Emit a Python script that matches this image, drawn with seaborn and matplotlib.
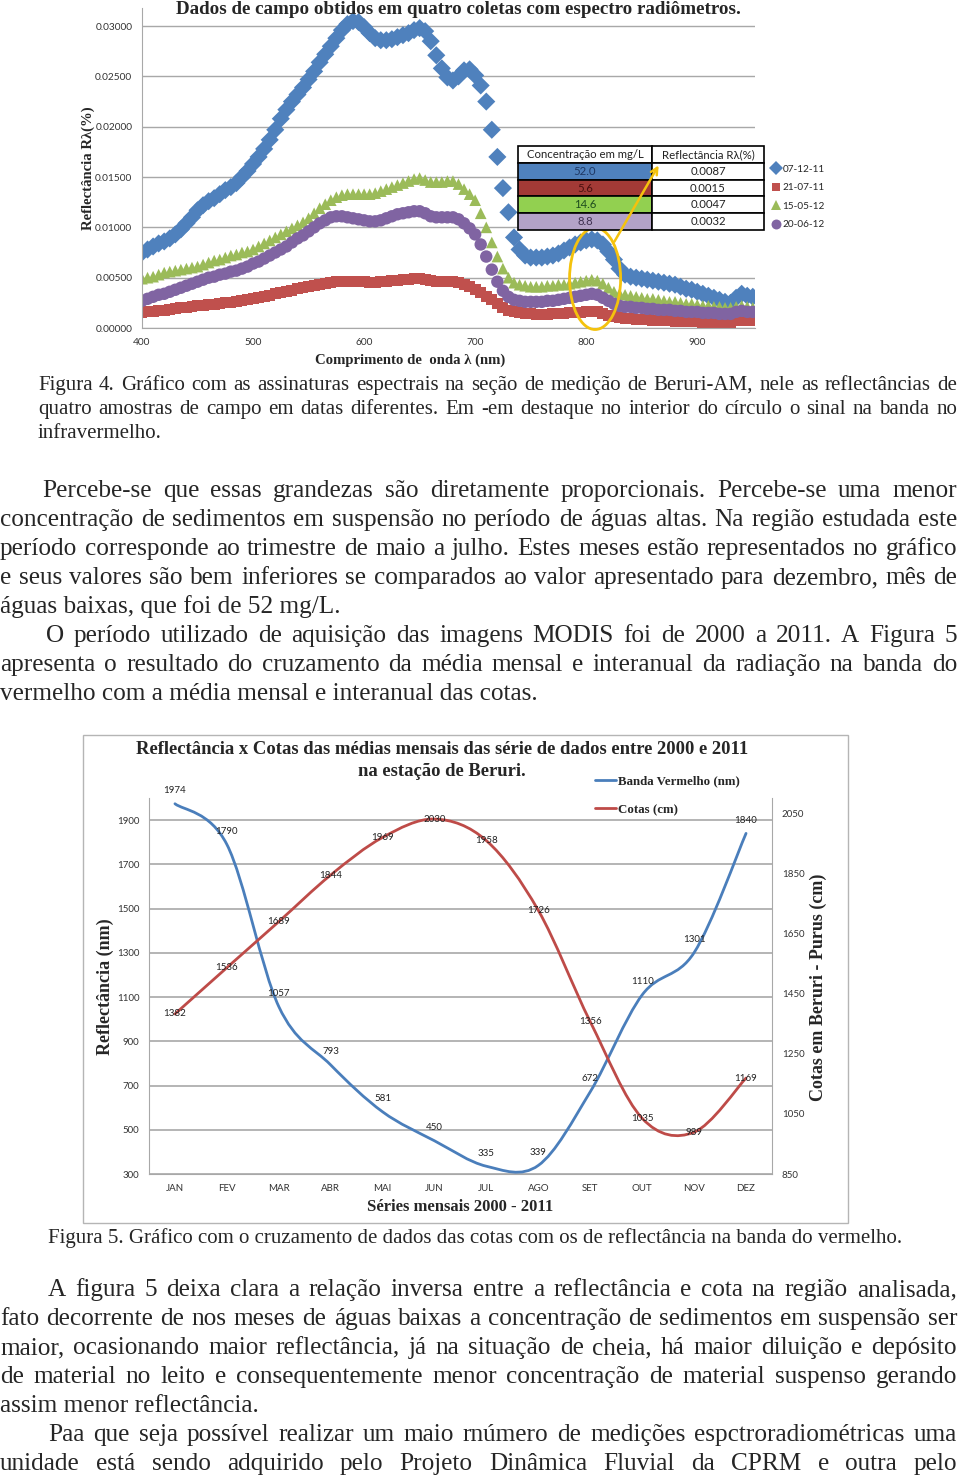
# ==============================
# Página com as Figuras 4 e 5 (espectros de campo e reflectância x cotas)
# ==============================

import numpy as np
import pandas as pd
import matplotlib
matplotlib.use("Agg")
import matplotlib.pyplot as plt
import seaborn as sns
from matplotlib.path import Path
from matplotlib.patches import PathPatch, Ellipse, Rectangle, FancyArrowPatch
from matplotlib.lines import Line2D


# ------------------------------
# Dados - Figura 4 (reflectância por comprimento de onda, passo de 5 nm)
# ------------------------------
comprimento_onda = np.arange(400, 951, 5)

refl_07_12_11 = [
    0.0075, 0.0078, 0.0081, 0.0084, 0.0086, 0.0089, 0.0093, 0.0098, 0.0104, 0.0110,
    0.0117, 0.0122, 0.0126, 0.0129, 0.0133, 0.0137, 0.0140, 0.0144, 0.0150, 0.0156,
    0.0163, 0.0170, 0.0178, 0.0187, 0.0197, 0.0208, 0.0217, 0.0225, 0.0232, 0.0239,
    0.0247, 0.0255, 0.0264, 0.0272, 0.0280, 0.0288, 0.0296, 0.0302, 0.0305, 0.0304,
    0.0299, 0.0293, 0.0288, 0.0286, 0.0286, 0.0287, 0.0289, 0.0291, 0.0293, 0.0296,
    0.0298, 0.0295, 0.0285, 0.0271, 0.0258, 0.0249, 0.0246, 0.0250, 0.0256, 0.0257,
    0.0251, 0.0241, 0.0225, 0.0197, 0.0170, 0.0139, 0.0115, 0.0090, 0.0078, 0.0072,
    0.0070, 0.0070, 0.0070, 0.0071, 0.0072, 0.0074, 0.0077, 0.0080, 0.0083, 0.0085,
    0.0087, 0.0088, 0.0087, 0.0083, 0.0076, 0.0068, 0.0059, 0.0053, 0.0051, 0.0050,
    0.0049, 0.0048, 0.0047, 0.0046, 0.0045, 0.0044, 0.0043, 0.0041, 0.0039, 0.0038,
    0.0036, 0.0034, 0.0032, 0.0030, 0.0028, 0.0026, 0.0025, 0.0030, 0.0034, 0.0032,
    0.0031,
]

refl_21_07_11 = [
    0.0015, 0.0016, 0.0016, 0.0017, 0.0017, 0.0018, 0.0019, 0.0020, 0.0020, 0.0021,
    0.0022, 0.0022, 0.0023, 0.0023, 0.0024, 0.0025, 0.0025, 0.0026, 0.0027, 0.0028,
    0.0029, 0.0030, 0.0031, 0.0032, 0.0034, 0.0035, 0.0036, 0.0037, 0.0039, 0.0040,
    0.0041, 0.0042, 0.0043, 0.0044, 0.0045, 0.0046, 0.0046, 0.0046, 0.0046, 0.0046,
    0.0046, 0.0045, 0.0045, 0.0046, 0.0046, 0.0047, 0.0047, 0.0048, 0.0048, 0.0049,
    0.0049, 0.0048, 0.0047, 0.0046, 0.0046, 0.0046, 0.0046, 0.0045, 0.0043, 0.0041,
    0.0038, 0.0035, 0.0031, 0.0028, 0.0024, 0.0020, 0.0017, 0.0016, 0.0015, 0.0014,
    0.0014, 0.0013, 0.0013, 0.0013, 0.0014, 0.0014, 0.0014, 0.0015, 0.0015, 0.0015,
    0.0016, 0.0016, 0.0016, 0.0014, 0.0012, 0.0011, 0.0010, 0.0009, 0.0009, 0.0008,
    0.0008, 0.0008, 0.0007, 0.0007, 0.0007, 0.0007, 0.0006, 0.0006, 0.0006, 0.0006,
    0.0006, 0.0005, 0.0005, 0.0005, 0.0005, 0.0005, 0.0005, 0.0007, 0.0007, 0.0007,
    0.0007,
]

refl_15_05_12 = [
    0.0049, 0.0050, 0.0051, 0.0053, 0.0055, 0.0056, 0.0057, 0.0058, 0.0059, 0.0060,
    0.0061, 0.0063, 0.0065, 0.0067, 0.0068, 0.0070, 0.0072, 0.0073, 0.0075, 0.0076,
    0.0078, 0.0081, 0.0084, 0.0087, 0.0090, 0.0093, 0.0096, 0.0099, 0.0102, 0.0105,
    0.0109, 0.0114, 0.0119, 0.0123, 0.0127, 0.0130, 0.0132, 0.0133, 0.0133, 0.0133,
    0.0133, 0.0133, 0.0134, 0.0136, 0.0138, 0.0140, 0.0142, 0.0144, 0.0146, 0.0148,
    0.0149, 0.0147, 0.0145, 0.0145, 0.0145, 0.0146, 0.0146, 0.0143, 0.0138, 0.0133,
    0.0127, 0.0114, 0.0100, 0.0085, 0.0071, 0.0059, 0.0050, 0.0045, 0.0043, 0.0042,
    0.0041, 0.0041, 0.0041, 0.0042, 0.0042, 0.0043, 0.0043, 0.0044, 0.0045, 0.0046,
    0.0047, 0.0048, 0.0047, 0.0044, 0.0040, 0.0036, 0.0034, 0.0033, 0.0032, 0.0031,
    0.0030, 0.0029, 0.0029, 0.0028, 0.0027, 0.0026, 0.0026, 0.0025, 0.0024, 0.0024,
    0.0023, 0.0022, 0.0022, 0.0021, 0.0021, 0.0020, 0.0020, 0.0021, 0.0022, 0.0021,
    0.0020,
]

refl_20_06_12 = [
    0.0027, 0.0029, 0.0031, 0.0033, 0.0034, 0.0036, 0.0038, 0.0040, 0.0042, 0.0044,
    0.0046, 0.0048, 0.0050, 0.0051, 0.0053, 0.0054, 0.0056, 0.0057, 0.0059, 0.0061,
    0.0064, 0.0066, 0.0069, 0.0072, 0.0075, 0.0078, 0.0081, 0.0085, 0.0089, 0.0092,
    0.0096, 0.0100, 0.0104, 0.0107, 0.0110, 0.0111, 0.0111, 0.0110, 0.0109, 0.0108,
    0.0107, 0.0106, 0.0106, 0.0107, 0.0109, 0.0111, 0.0113, 0.0114, 0.0115, 0.0116,
    0.0116, 0.0114, 0.0111, 0.0110, 0.0110, 0.0110, 0.0110, 0.0108, 0.0104, 0.0099,
    0.0093, 0.0083, 0.0071, 0.0058, 0.0046, 0.0037, 0.0031, 0.0028, 0.0027, 0.0026,
    0.0026, 0.0026, 0.0026, 0.0027, 0.0027, 0.0028, 0.0029, 0.0030, 0.0031, 0.0032,
    0.0033, 0.0034, 0.0033, 0.0030, 0.0027, 0.0024, 0.0022, 0.0021, 0.0021, 0.0020,
    0.0020, 0.0019, 0.0019, 0.0018, 0.0018, 0.0018, 0.0017, 0.0017, 0.0016, 0.0016,
    0.0016, 0.0015, 0.0015, 0.0015, 0.0014, 0.0014, 0.0014, 0.0016, 0.0017, 0.0016,
    0.0016,
]

coletas = ["07-12-11", "21-07-11", "15-05-12", "20-06-12"]
concentracao = ["52.0", "5.6", "14.6", "8.8"]
refl_tabela = ["0.0087", "0.0015", "0.0047", "0.0032"]

# ------------------------------
# Dados - Figura 5 (médias mensais 2000-2011)
# ------------------------------
meses = ["JAN", "FEV", "MAR", "ABR", "MAI", "JUN", "JUL", "AGO", "SET", "OUT", "NOV", "DEZ"]
banda_vermelho = [1974, 1790, 1057, 793, 581, 450, 335, 339, 672, 1110, 1301, 1840]
cotas = [1382, 1536, 1689, 1844, 1969, 2030, 1958, 1726, 1356, 1035, 989, 1169]


# ------------------------------
# Estilo e cores
# ------------------------------
sns.set_style("white")
plt.rcParams["font.family"] = ["Lato", "DejaVu Sans"]
SERIF = ["Liberation Serif", "DejaVu Serif"]

cores_coleta = {"07-12-11": "#4F81BD", "21-07-11": "#C0504D",
                "15-05-12": "#9BBB59", "20-06-12": "#8064A2"}
marcadores = {"07-12-11": "D", "21-07-11": "s", "15-05-12": "^", "20-06-12": "o"}
tamanhos = {"07-12-11": 85, "21-07-11": 62, "15-05-12": 70, "20-06-12": 80}
AZUL = "#4A7EBB"
VERMELHO = "#BE4B48"
AMARELO = "#F4C20D"
CINZA = "#a8a8a8"

W, H = 960, 1478
fig = plt.figure(figsize=(W / 100, H / 100), dpi=100)
renderer = fig.canvas.get_renderer()


def fx(x):
    return x / W


def fy(y):
    return 1 - y / H


def caixa(x0, y0, x1, y1):
    return [x0 / W, 1 - y1 / H, (x1 - x0) / W, (y1 - y0) / H]


def linha(texto, x0, y, tam, x1=None):
    # linha de texto; se x1 for dado, justifica palavra a palavra até x1
    if x1 is None:
        fig.text(fx(x0), fy(y), texto, family=SERIF, size=tam, va="baseline")
        return
    palavras = texto.split(" ")
    objs = [fig.text(0, fy(y), p, family=SERIF, size=tam, va="baseline") for p in palavras]
    larg = [o.get_window_extent(renderer).width for o in objs]
    esp = (x1 - x0 - sum(larg)) / (len(palavras) - 1)
    x = x0
    for o, lg in zip(objs, larg):
        o.set_x(fx(x))
        x += lg + esp


def curva_suave(ax, valores, cor):
    # linha suavizada (Bezier pelos pontos, como no Excel)
    pts = np.column_stack([np.arange(len(valores), dtype=float), np.asarray(valores, dtype=float)])
    ext = np.vstack([pts[0], pts, pts[-1]])
    verts = [pts[0]]
    codes = [Path.MOVETO]
    for i in range(len(pts) - 1):
        p0, p1, p2, p3 = ext[i], ext[i + 1], ext[i + 2], ext[i + 3]
        verts += [p1 + (p2 - p0) / 6, p2 - (p3 - p1) / 6, p2]
        codes += [Path.CURVE4] * 3
    ax.add_patch(PathPatch(Path(verts, codes), fill=False, edgecolor=cor, lw=2.0,
                           capstyle="round", joinstyle="round"))


# ==============================
# Figura 4 - espectros
# ==============================
df_esp = pd.concat([
    pd.DataFrame({"comprimento": comprimento_onda, "refl": refl_07_12_11, "coleta": "07-12-11"}),
    pd.DataFrame({"comprimento": comprimento_onda, "refl": refl_21_07_11, "coleta": "21-07-11"}),
    pd.DataFrame({"comprimento": comprimento_onda, "refl": refl_15_05_12, "coleta": "15-05-12"}),
    pd.DataFrame({"comprimento": comprimento_onda, "refl": refl_20_06_12, "coleta": "20-06-12"}),
], ignore_index=True)

ax1 = fig.add_axes(caixa(142, 8, 755, 328))
sns.scatterplot(data=df_esp, x="comprimento", y="refl", hue="coleta", style="coleta",
                size="coleta", sizes=tamanhos, palette=cores_coleta, markers=marcadores,
                linewidth=0, ax=ax1)
ax1.set_xlim(400, 952)
ax1.set_ylim(0, 0.0318)
ax1.set_xticks([400, 500, 600, 700, 800, 900])
ax1.set_yticks([0, 0.005, 0.01, 0.015, 0.02, 0.025, 0.03])
ax1.set_yticklabels([f"{v:.5f}" for v in ax1.get_yticks()])
ax1.set_xlabel("")
ax1.set_ylabel("")
ax1.grid(axis="y", color=CINZA, lw=1)
ax1.set_axisbelow(True)
for lado in ["top", "right"]:
    ax1.spines[lado].set_visible(False)
for lado in ["left", "bottom"]:
    ax1.spines[lado].set_color(CINZA)
ax1.tick_params(axis="x", length=4, color=CINZA, labelsize=7.3, pad=3, colors="#333333")
ax1.tick_params(axis="y", length=0, labelsize=7.3, pad=7, colors="#333333")
sns.move_legend(ax1, "upper left", bbox_to_anchor=(1.026, 0.51), frameon=False, title=None,
                fontsize=7.2, handletextpad=0.15, labelspacing=0.95, handlelength=1.0,
                borderpad=0, borderaxespad=0, markerscale=0.8)

# destaque no infravermelho
ax1.add_patch(Ellipse((808, 0.0049), width=46, height=0.0101, fill=False,
                      edgecolor=AMARELO, lw=2, clip_on=False, zorder=5))

fig.text(fx(458), fy(10), "Dados de campo obtidos em quatro coletas com espectro radiômetros.",
         family=SERIF, weight="bold", size=13.7, ha="center", va="center")
fig.text(fx(88), fy(168), "Reflectância Rλ(%)", family=SERIF, weight="bold", size=10.6,
         rotation=90, ha="center", va="center")
fig.text(fx(410), fy(360), "Comprimento de  onda λ (nm)", family=SERIF, weight="bold",
         size=10.6, ha="center", va="center")

# tabela de concentração
ax_tab = fig.add_axes(caixa(518, 146, 764, 230))
ax_tab.axis("off")
celulas = [["Concentração em mg/L", "Reflectância Rλ(%)"]] + \
          [[c, r] for c, r in zip(concentracao, refl_tabela)]
fundo = [["white", "white"], ["#4F81BD", "white"], ["#A33A36", "white"],
         ["#92D050", "white"], ["#B3A2C7", "white"]]
cor_texto = ["#222222", "#1F3864", "#4A0F0F", "#1E4D1E", "#3F3151"]
tab = ax_tab.table(cellText=celulas, cellColours=fundo, colWidths=[134 / 246, 112 / 246],
                   bbox=[0, 0, 1, 1], cellLoc="center")
tab.auto_set_font_size(False)
tab.set_fontsize(8.2)
for (r, c), cel in tab.get_celld().items():
    cel.set_edgecolor("black")
    cel.set_linewidth(1.2)
    cel.get_text().set_color(cor_texto[r] if c == 0 else "#222222")

# seta do círculo até a tabela (por cima da tabela)
fig.add_artist(FancyArrowPatch((fx(613), fy(244)), (fx(660), fy(163)),
                               transform=fig.transFigure, arrowstyle="->",
                               mutation_scale=12, color=AMARELO, lw=1.8, zorder=10))

# ==============================
# Textos entre as figuras
# ==============================
CAP = 15
PAR = 18.2
linha("Figura 4. Gráfico com as assinaturas espectrais na seção de medição de Beruri-AM, nele as reflectâncias de", 38, 390, CAP, 957)
linha("quatro amostras de campo em datas diferentes. Em -em destaque no interior do círculo o sinal na banda no", 38, 414, CAP, 957)
linha("infravermelho.", 38, 438, CAP)

linha("Percebe-se que essas grandezas são diretamente proporcionais. Percebe-se uma menor", 42, 497, PAR, 957)
linha("concentração de sedimentos em suspensão no período de águas altas. Na região estudada este", 0, 526, PAR, 957)
linha("período corresponde ao trimestre de maio a julho. Estes meses estão representados no gráfico", 0, 555, PAR, 957)
linha("e seus valores são bem inferiores se comparados ao valor apresentado para dezembro, mês de", 0, 584, PAR, 957)
linha("águas baixas, que foi de 52 mg/L.", 0, 613, PAR)
linha("O período utilizado de aquisição das imagens MODIS foi de 2000 a 2011. A Figura 5", 46, 642, PAR, 957)
linha("apresenta o resultado do cruzamento da média mensal e interanual da radiação na banda do", 0, 671, PAR, 957)
linha("vermelho com a média mensal e interanual das cotas.", 0, 700, PAR)

# ==============================
# Figura 5 - reflectância x cotas
# ==============================
fig.add_artist(Rectangle((fx(83), fy(1223)), (848 - 83) / W, (1223 - 735) / H,
                         transform=fig.transFigure, fill=False, edgecolor="#b5b5b5", lw=1))

ax2 = fig.add_axes(caixa(149, 798, 772, 1174))
x_meses = np.arange(len(meses))
ax2.set_xlim(-0.5, 11.5)
ax2.set_ylim(300, 2000)
ax2.set_yticks(range(300, 2000, 200))
ax2.set_xticks(x_meses)
ax2.set_xticklabels(meses)
ax2.grid(axis="y", color=CINZA, lw=1.2)
ax2.set_axisbelow(True)
ax2.spines["top"].set_visible(False)
ax2.spines["right"].set_visible(False)
for lado in ["left", "bottom"]:
    ax2.spines[lado].set_color(CINZA)
ax2.tick_params(axis="both", length=0, labelsize=7.0, colors="#333333")
ax2.tick_params(axis="y", pad=7)
ax2.tick_params(axis="x", pad=7)

ax2r = ax2.twinx()
ax2r.set_ylim(850, 2100)
ax2r.set_yticks(range(850, 2100, 200))
for lado in ["top", "left", "bottom"]:
    ax2r.spines[lado].set_visible(False)
ax2r.spines["right"].set_color(CINZA)
ax2r.tick_params(axis="y", length=0, labelsize=7.0, pad=7, colors="#333333")

curva_suave(ax2, banda_vermelho, AZUL)
curva_suave(ax2r, cotas, VERMELHO)

for i, v in enumerate(banda_vermelho):
    ax2.annotate(str(v), (i, v), xytext=(0, 9.4), textcoords="offset points",
                 ha="center", va="center", size=7.0, color="#222222")
for i, v in enumerate(cotas):
    ax2r.annotate(str(v), (i, v), ha="center", va="center", size=7.0, color="#222222")

ax2r.legend(handles=[Line2D([], [], color=AZUL, lw=2), Line2D([], [], color=VERMELHO, lw=2)],
            labels=["Banda Vermelho (nm)", "Cotas (cm)"], loc="upper left",
            bbox_to_anchor=(fx(595), fy(775)), bbox_transform=fig.transFigure, frameon=False,
            prop={"family": SERIF, "weight": "bold", "size": 9.3},
            handlelength=1.65, handletextpad=0.15, labelspacing=1.3, borderpad=0, borderaxespad=0)

fig.text(fx(442), fy(749), "Reflectância x Cotas das médias mensais das série de dados entre 2000 e 2011",
         family=SERIF, weight="bold", size=13.4, ha="center", va="center")
fig.text(fx(442), fy(771), "na estação de Beruri.", family=SERIF, weight="bold", size=13.4,
         ha="center", va="center")
fig.text(fx(105), fy(987), "Reflectância (nm)", family=SERIF, weight="bold", size=13,
         rotation=90, ha="center", va="center")
fig.text(fx(818), fy(987), "Cotas em Beruri - Purus (cm)", family=SERIF, weight="bold", size=13,
         rotation=90, ha="center", va="center")
fig.text(fx(460), fy(1207), "Séries mensais 2000 - 2011", family=SERIF, weight="bold", size=12,
         ha="center", va="center")

# ==============================
# Textos finais
# ==============================
linha("Figura 5. Gráfico com o cruzamento de dados das cotas com os de reflectância na banda do vermelho.", 48, 1243, CAP)

linha("A figura 5 deixa clara a relação inversa entre a reflectância e cota na região analisada,", 48, 1296, PAR, 957)
linha("fato decorrente de nos meses de águas baixas a concentração de sedimentos em suspensão ser", 0, 1325, PAR, 957)
linha("maior, ocasionando maior reflectância, já na situação de cheia, há maior diluição e depósito", 0, 1354, PAR, 957)
linha("de material no leito e consequentemente menor concentração de material suspenso gerando", 0, 1383, PAR, 957)
linha("assim menor reflectância.", 0, 1412, PAR)
linha("Paa que seja possível realizar um maio rnúmero de medições espctroradiométricas uma", 48, 1441, PAR, 957)
linha("unidade está sendo adquirido pelo Projeto Dinâmica Fluvial da CPRM e outra pelo", 0, 1470, PAR, 957)

fig.savefig("out.png", dpi=100)
